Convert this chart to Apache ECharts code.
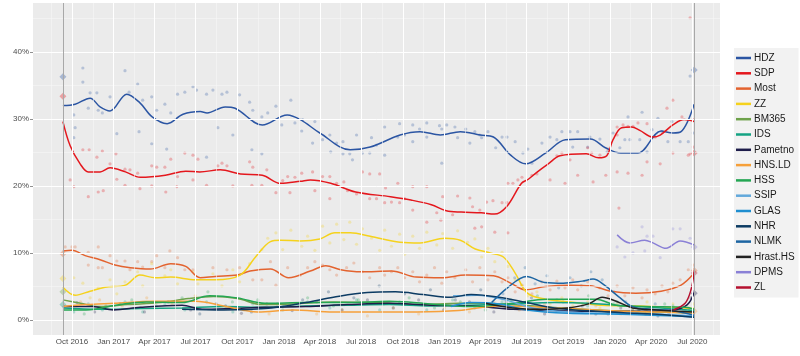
<!DOCTYPE html>
<html><head><meta charset="utf-8">
<script src="https://cdn.jsdelivr.net/npm/echarts@6/dist/echarts.min.js"></script>
<style>html,body{margin:0;padding:0;background:#fff}#c{width:800px;height:356px}</style>
</head><body><div id="c"></div>
<script>
// ---------- data ----------
const partyNames  = ['HDZ','SDP','Most','ZZ','BM365','IDS','Pametno','HNS.LD','HSS','SSIP','GLAS','NHR','NLMK','Hrast.HS','DPMS','ZL'];
const partyColors = ['#2b55a3','#e4171d','#e3632f','#f5d21d','#6ea24b','#14a383','#1e1d4b','#f6a03a','#24a653','#62a8db','#1f8ed0','#0c3b63','#1d65a2','#222222','#8a80d6','#b5112f'];
const tickLabels = ['Oct 2016','Jan 2017','Apr 2017','Jul 2017','Oct 2017','Jan 2018','Apr 2018','Jul 2018','Oct 2018','Jan 2019','Apr 2019','Jul 2019','Oct 2019','Jan 2020','Apr 2020','Jul 2020'];
const yTicks = [0,10,20,30,40];
const yMinor = [5,15,25,35,45];
const electionDates = ['2016-09-11','2020-07-05'];

const hdzLine = [['2016-09-11',32.0],['2016-10-08',32.2],['2016-11-10',33.1],['2016-12-02',31.8],['2016-12-24',31.2],['2017-01-30',33.7],['2017-02-28',32.4],['2017-03-27',30.3],['2017-04-29',29.3],['2017-06-03',30.7],['2017-07-11',31.1],['2017-07-26',30.9],['2017-09-04',31.8],['2017-09-26',31.6],['2017-11-25',29.1],['2018-01-19',30.6],['2018-02-17',29.9],['2018-04-01',27.9],['2018-06-07',25.4],['2018-07-21',25.8],['2018-09-25',27.6],['2018-11-08',28.1],['2018-12-23',27.6],['2019-02-05',28.1],['2019-03-21',27.6],['2019-04-19',27.3],['2019-05-27',24.6],['2019-06-29',23.3],['2019-08-12',24.9],['2019-09-25',26.9],['2019-11-19',27.0],['2019-12-22',25.7],['2020-01-25',24.9],['2020-03-03',24.9],['2020-04-23',28.2],['2020-05-19',27.9],['2020-06-06',28.1],['2020-07-05',32.2]];
const sdpLine = [['2016-09-11',29.6],['2016-09-27',26.0],['2016-10-19',23.3],['2016-11-06',22.1],['2016-12-02',22.1],['2016-12-24',22.7],['2017-01-27',22.1],['2017-03-01',21.3],['2017-04-25',21.6],['2017-06-09',22.2],['2017-07-10',22.1],['2017-08-24',22.4],['2017-10-08',21.8],['2017-11-25',21.6],['2018-01-04',20.4],['2018-02-17',20.7],['2018-03-11',20.9],['2018-04-25',20.4],['2018-06-19',19.1],['2018-09-04',18.4],['2018-10-19',17.9],['2018-12-03',17.2],['2019-01-05',16.3],['2019-02-07',16.1],['2019-03-23',16.0],['2019-04-21',15.8],['2019-05-18',16.9],['2019-06-20',20.4],['2019-07-05',21.0],['2019-07-23',22.0],['2019-08-18',23.3],['2019-09-13',24.5],['2019-11-10',24.8],['2019-12-07',24.2],['2019-12-25',24.5],['2020-01-08',26.9],['2020-01-27',28.7],['2020-02-18',28.8],['2020-03-07',28.3],['2020-04-05',27.3],['2020-04-21',27.6],['2020-05-19',29.1],['2020-06-13',29.9],['2020-07-05',29.6]];
const mostLine = [['2016-09-11',10.3],['2016-10-01',10.4],['2016-10-30',9.6],['2016-12-02',9.0],['2017-01-04',8.2],['2017-02-07',7.8],['2017-03-23',7.6],['2017-05-07',8.4],['2017-06-09',8.0],['2017-07-11',6.3],['2017-08-13',6.5],['2017-10-01',6.7],['2017-10-29',7.3],['2017-12-13',7.6],['2018-01-22',6.3],['2018-03-11',7.3],['2018-04-14',8.1],['2018-05-17',7.5],['2018-07-01',7.2],['2018-09-06',7.3],['2018-10-31',6.4],['2018-12-26',6.3],['2019-02-17',6.7],['2019-04-19',6.6],['2019-05-27',5.5],['2019-06-29',4.5],['2019-08-12',5.0],['2019-10-06',5.2],['2019-11-19',5.1],['2020-01-03',4.3],['2020-02-27',4.0],['2020-04-23',4.3],['2020-06-06',5.2],['2020-07-05',7.0]];
const zzLine = [['2016-09-11',4.9],['2016-10-08',3.7],['2016-11-10',4.3],['2016-12-13',4.9],['2017-01-27',5.2],['2017-02-28',6.7],['2017-04-03',6.3],['2017-05-07',6.4],['2017-07-01',6.0],['2017-08-13',6.0],['2017-10-07',6.7],['2017-11-10',9.4],['2017-12-13',11.7],['2018-01-04',11.9],['2018-02-17',11.8],['2018-04-01',12.1],['2018-05-04',13.0],['2018-06-07',13.0],['2018-07-21',12.5],['2018-09-25',11.6],['2018-11-08',11.5],['2019-01-02',12.2],['2019-02-05',11.9],['2019-03-10',10.6],['2019-04-12',10.0],['2019-05-11',9.4],['2019-06-06',7.0],['2019-07-03',4.0],['2019-08-12',3.1],['2019-10-06',2.7],['2019-12-12',2.2],['2020-03-09',2.1],['2020-05-15',1.9],['2020-07-05',1.7]];
const bm365Line = [['2016-09-11',3.0],['2016-10-20',2.5],['2016-12-01',2.0],['2017-02-01',2.3],['2017-04-15',2.6],['2017-06-15',3.2],['2017-08-10',3.5],['2017-10-01',3.2],['2017-11-25',2.3],['2018-02-01',2.4],['2018-05-01',2.7],['2018-08-01',2.6],['2018-11-01',2.3],['2019-02-01',2.5],['2019-05-01',2.4],['2019-08-01',2.0],['2019-11-01',1.6],['2020-02-01',1.3],['2020-05-01',1.2],['2020-07-05',1.0]];
const idsLine = [['2016-09-11',1.8],['2016-12-01',1.6],['2017-03-01',1.7],['2017-06-01',1.8],['2017-09-01',2.0],['2017-12-01',1.9],['2018-03-01',2.1],['2018-06-01',2.2],['2018-09-01',2.3],['2018-12-01',2.1],['2019-03-01',2.2],['2019-06-01',2.4],['2019-09-01',2.6],['2019-11-15',2.5],['2020-01-15',2.2],['2020-04-01',1.9],['2020-07-05',1.4]];
const pametnoLine = [['2016-09-11',2.0],['2016-11-15',2.0],['2017-01-01',1.5],['2017-03-01',1.9],['2017-06-01',2.2],['2017-07-15',1.6],['2017-09-15',1.7],['2017-12-01',1.9],['2018-03-01',2.0],['2018-06-01',2.3],['2018-09-01',2.5],['2018-12-01',2.2],['2019-03-01',2.1],['2019-06-01',1.6],['2019-09-01',1.4],['2019-12-01',1.3],['2020-03-01',1.3],['2020-05-20',1.5],['2020-06-20',2.3],['2020-07-05',4.1]];
const hnsLine = [['2016-09-11',2.0],['2016-11-01',2.3],['2017-01-01',2.5],['2017-04-01',2.8],['2017-07-01',2.8],['2017-09-01',2.1],['2017-11-15',1.2],['2018-02-01',1.5],['2018-05-01',1.2],['2018-08-01',1.2],['2018-11-01',1.2],['2019-02-01',1.4],['2019-05-01',2.1],['2019-08-01',1.9],['2019-11-01',1.6],['2020-02-01',1.3],['2020-05-01',1.2],['2020-07-05',1.0]];
const hssLine = [['2016-09-11',1.5],['2016-11-01',1.5],['2017-01-15',2.3],['2017-03-15',2.7],['2017-06-01',2.6],['2017-08-01',3.6],['2017-10-01',3.3],['2017-12-01',2.5],['2018-03-01',2.6],['2018-06-01',2.6],['2018-09-01',2.8],['2018-12-01',2.4],['2019-03-01',2.0],['2019-06-01',2.5],['2019-08-15',3.1],['2019-12-01',3.1],['2020-01-15',2.2],['2020-03-15',2.0],['2020-06-15',1.9],['2020-07-05',1.6]];
const ssipLine = [['2019-01-20',3.6],['2019-03-15',3.7],['2019-05-15',3.0],['2019-07-15',1.8],['2019-10-01',1.2],['2020-01-01',1.0],['2020-04-01',0.9],['2020-07-05',0.6]];
const glasLine = [['2019-01-15',2.0],['2019-03-01',2.6],['2019-05-01',2.4],['2019-07-01',1.5],['2019-10-01',1.0],['2020-01-01',0.9],['2020-04-01',0.7],['2020-07-05',0.5]];
const nhrLine = [['2017-06-01',1.6],['2017-09-01',1.5],['2017-12-01',1.7],['2018-03-01',2.6],['2018-05-01',3.4],['2018-07-15',4.1],['2018-09-15',4.2],['2018-11-15',3.8],['2019-01-15',3.4],['2019-03-01',3.8],['2019-05-01',3.4],['2019-07-01',2.6],['2019-09-01',1.8],['2019-12-01',1.3],['2020-03-01',1.0],['2020-05-01',0.8],['2020-07-05',0.4]];
const nlmkLine = [['2019-04-15',2.6],['2019-05-20',4.8],['2019-07-01',6.5],['2019-08-10',5.6],['2019-09-20',5.5],['2019-11-01',5.8],['2019-11-25',6.1],['2019-12-20',5.2],['2020-01-20',3.5],['2020-02-20',2.0],['2020-04-01',1.6],['2020-05-15',1.4],['2020-07-05',0.7]];
const hrastLine = [['2019-04-01',2.5],['2019-06-01',1.8],['2019-08-01',1.6],['2019-10-01',1.8],['2019-11-15',2.4],['2019-12-15',3.4],['2020-01-15',2.8],['2020-02-20',1.8],['2020-04-15',1.5],['2020-07-05',1.2]];
const dpmsLine = [['2020-01-17',12.7],['2020-02-14',11.5],['2020-03-18',11.9],['2020-04-05',11.5],['2020-05-04',10.7],['2020-06-04',11.8],['2020-07-05',11.2]];
const zlLine = [['2020-05-20',1.5],['2020-06-15',2.5],['2020-06-28',4.5],['2020-07-05',7.2]];

const hdzPolls = [['2016-10-25',37.6],['2016-11-10',33.9],['2016-10-25',35.5],['2016-10-05',30.6],['2016-10-08',28.7],['2016-10-05',27.2],['2016-11-06',31.6],['2016-11-25',33.9],['2016-11-28',31.3],['2016-12-07',30.9],['2016-12-24',33.3],['2017-01-08',27.8],['2017-01-26',37.2],['2017-02-04',34.0],['2017-02-23',35.2],['2017-02-26',28.1],['2017-03-06',32.8],['2017-03-26',33.3],['2017-03-26',26.3],['2017-04-06',31.3],['2017-04-24',32.2],['2017-04-28',25.5],['2017-05-07',30.9],['2017-05-22',33.7],['2017-06-07',34.0],['2017-06-25',34.8],['2017-07-03',34.3],['2017-07-25',33.7],['2017-08-08',34.3],['2017-08-28',33.7],['2017-09-08',34.0],['2017-10-06',33.6],['2017-07-25',24.3],['2017-08-19',28.7],['2017-09-21',27.6],['2017-10-28',32.5],['2017-11-04',31.3],['2017-11-02',25.4],['2017-11-24',30.3],['2017-11-24',24.8],['2017-12-07',30.9],['2017-12-25',31.9],['2018-01-07',29.1],['2018-01-27',32.8],['2018-02-05',29.4],['2018-02-20',28.2],['2018-02-22',29.9],['2018-03-21',29.6],['2018-03-16',26.4],['2018-04-07',26.9],['2018-04-23',27.6],['2018-04-25',25.1],['2018-05-08',26.4],['2018-05-22',26.6],['2018-05-22',24.8],['2018-06-06',24.8],['2018-06-12',23.9],['2018-06-21',27.6],['2018-07-04',24.9],['2018-07-20',24.9],['2018-07-24',27.2],['2018-08-04',26.1],['2018-08-22',24.6],['2018-08-22',28.8],['2018-09-20',27.3],['2018-09-24',29.3],['2018-10-05',27.6],['2018-10-23',29.1],['2018-10-23',26.6],['2018-11-07',28.5],['2018-11-23',29.4],['2018-11-23',27.3],['2018-12-21',29.0],['2018-12-26',23.4],['2018-12-26',28.5],['2019-01-06',29.1],['2019-01-24',28.8],['2019-01-30',27.2],['2019-02-17',28.5],['2019-02-26',26.4],['2019-03-09',28.1],['2019-03-20',27.6],['2019-03-24',27.2],['2019-04-07',28.1],['2019-04-24',25.7],['2019-05-08',27.3],['2019-05-19',27.3],['2019-06-06',26.6],['2019-06-23',24.9],['2019-07-04',25.5],['2019-07-13',23.4],['2019-08-04',26.4],['2019-08-22',27.3],['2019-09-06',26.9],['2019-09-17',28.1],['2019-10-05',28.1],['2019-10-11',25.8],['2019-10-22',28.1],['2019-11-13',25.8],['2019-11-18',27.3],['2019-12-10',27.0],['2019-12-26',25.1],['2020-01-08',27.9],['2020-01-23',25.7],['2020-02-03',26.9],['2020-02-10',30.3],['2020-02-14',26.9],['2020-03-07',26.9],['2020-03-12',31.0],['2020-03-23',25.1],['2020-04-03',28.4],['2020-04-05',27.3],['2020-04-16',30.1],['2020-04-25',28.1],['2020-05-08',26.6],['2020-05-17',29.6],['2020-06-04',26.6],['2020-06-22',26.6],['2020-06-26',36.4],['2020-07-03',27.9]];
const sdpPolls = [['2016-09-27',20.9],['2016-10-05',19.9],['2016-11-06',18.4],['2016-11-28',19.1],['2016-12-09',19.3],['2017-01-08',21.0],['2017-01-26',20.1],['2017-02-28',19.6],['2017-03-26',20.0],['2017-04-26',19.1],['2017-05-20',19.9],['2017-06-25',20.9],['2016-10-25',25.4],['2016-11-08',25.4],['2016-11-25',24.3],['2016-12-07',25.2],['2017-01-06',24.8],['2016-12-24',23.3],['2017-01-26',22.5],['2017-02-06',22.4],['2017-02-23',21.9],['2017-03-26',23.0],['2017-04-06',22.8],['2017-04-24',22.8],['2017-05-07',24.0],['2017-05-22',21.4],['2017-06-07',24.9],['2017-06-25',24.6],['2017-07-06',24.0],['2017-08-19',23.0],['2017-08-28',23.4],['2017-09-08',23.0],['2017-10-28',23.6],['2017-11-04',22.8],['2017-12-05',22.4],['2018-01-20',21.4],['2018-02-20',21.9],['2018-03-16',22.1],['2018-04-07',21.4],['2018-04-23',21.4],['2017-07-25',20.1],['2017-09-21',20.0],['2017-11-02',20.1],['2017-11-24',20.1],['2017-12-25',19.0],['2018-01-09',20.8],['2018-01-25',19.0],['2018-02-05',21.3],['2018-03-21',19.3],['2018-04-23',18.1],['2018-05-08',20.4],['2018-05-24',20.6],['2018-06-01',19.3],['2018-06-21',18.8],['2018-07-04',22.1],['2018-07-20',21.8],['2018-07-20',18.1],['2018-08-04',18.1],['2018-08-11',21.8],['2018-08-22',17.5],['2018-08-24',19.7],['2018-09-06',17.6],['2018-09-20',20.4],['2018-09-24',17.5],['2018-10-05',18.1],['2018-10-23',19.9],['2018-10-23',16.4],['2018-11-23',19.9],['2018-11-23',14.6],['2018-12-15',16.0],['2018-12-24',14.9],['2018-12-28',18.4],['2019-01-19',15.7],['2019-01-30',18.5],['2019-02-26',18.2],['2019-03-04',16.9],['2019-03-09',13.7],['2019-03-20',16.4],['2019-03-24',13.9],['2019-04-04',17.6],['2019-04-18',17.8],['2019-04-22',13.1],['2019-05-08',17.5],['2019-05-19',17.5],['2019-05-21',13.0],['2019-05-21',20.4],['2019-06-01',20.4],['2019-06-12',20.9],['2019-06-21',21.3],['2019-07-13',21.6],['2019-07-24',21.8],['2019-08-22',20.9],['2019-09-06',24.5],['2019-09-17',24.9],['2019-09-24',20.4],['2019-10-05',23.9],['2019-10-22',21.6],['2019-11-13',25.7],['2019-11-22',24.9],['2019-11-25',20.6],['2019-12-10',24.6],['2019-12-23',21.6],['2019-12-28',25.5],['2020-01-17',28.8],['2020-01-17',27.6],['2020-01-17',22.1],['2020-01-21',16.7],['2020-01-30',29.1],['2020-02-10',28.9],['2020-02-10',21.9],['2020-02-21',28.9],['2020-03-03',29.4],['2020-03-12',21.6],['2020-03-23',29.3],['2020-03-23',23.6],['2020-04-10',27.3],['2020-04-21',23.3],['2020-05-06',31.6],['2020-05-19',32.8],['2020-05-19',24.9],['2020-06-08',30.3],['2020-06-22',24.6],['2020-06-26',45.1],['2020-06-26',24.8],['2020-07-03',25.8],['2020-07-03',29.9]];
const mostPolls = [['2016-09-16',10.9],['2016-10-01',10.9],['2016-10-08',10.9],['2016-11-06',10.1],['2016-11-06',8.2],['2016-11-28',10.9],['2016-11-28',7.8],['2016-12-07',7.8],['2016-12-24',9.6],['2017-01-08',8.8],['2017-01-26',8.8],['2017-02-06',7.5],['2017-02-23',8.7],['2017-03-06',7.9],['2017-03-26',8.7],['2017-04-06',9.6],['2017-04-24',7.8],['2017-05-05',10.3],['2017-05-22',9.3],['2017-06-07',7.5],['2017-06-25',7.5],['2017-08-08',7.8],['2017-09-08',7.5],['2017-10-06',7.8],['2017-11-04',6.0],['2017-11-24',6.0],['2017-12-13',8.7],['2017-12-25',5.2],['2018-01-20',7.8],['2018-02-17',6.7],['2018-03-05',7.8],['2018-03-21',8.7],['2018-04-07',8.2],['2018-04-23',7.5],['2018-05-08',6.7],['2018-05-30',7.8],['2018-06-15',8.5],['2018-07-04',7.2],['2018-07-20',6.3],['2018-08-11',7.8],['2018-08-22',6.7],['2018-09-06',7.2],['2018-09-20',7.8],['2018-10-05',6.3],['2018-10-23',7.2],['2018-11-07',5.7],['2018-11-23',6.7],['2018-12-10',7.8],['2018-12-26',5.5],['2019-01-06',7.2],['2019-01-24',6.3],['2019-02-17',7.5],['2019-03-04',5.7],['2019-03-20',7.8],['2019-04-07',6.0],['2019-04-22',7.2],['2019-05-08',5.7],['2019-05-21',6.3],['2019-06-06',4.2],['2019-06-21',5.2],['2019-07-13',3.9],['2019-08-04',5.7],['2019-08-22',4.5],['2019-09-06',5.8],['2019-09-24',4.8],['2019-10-11',6.0],['2019-10-22',4.5],['2019-11-13',5.7],['2019-12-10',4.8],['2019-12-28',3.6],['2020-01-17',5.1],['2020-02-03',3.6],['2020-02-21',4.8],['2020-03-12',3.3],['2020-03-23',4.5],['2020-04-10',3.9],['2020-04-25',5.1],['2020-05-08',4.2],['2020-05-19',5.5],['2020-06-04',6.0],['2020-06-22',7.5],['2020-07-03',8.2]];
const zzPolls = [['2016-10-05',6.3],['2016-10-25',5.5],['2016-11-10',3.3],['2016-11-28',4.8],['2016-12-24',6.0],['2017-01-08',3.9],['2017-01-26',5.7],['2017-02-23',7.2],['2017-03-06',5.1],['2017-03-26',8.4],['2017-04-24',6.6],['2017-05-07',7.5],['2017-05-22',5.4],['2017-06-25',7.2],['2017-07-06',5.4],['2017-08-08',6.9],['2017-08-28',5.1],['2017-09-21',7.5],['2017-10-06',5.7],['2017-10-28',8.4],['2017-11-24',10.5],['2017-12-07',12.2],['2017-12-25',13.0],['2018-01-09',10.5],['2018-01-27',13.4],['2018-02-20',11.0],['2018-03-05',12.5],['2018-03-21',10.4],['2018-04-07',14.0],['2018-04-23',11.5],['2018-05-08',14.3],['2018-05-24',12.0],['2018-06-06',14.6],['2018-06-21',11.3],['2018-07-04',13.6],['2018-07-24',12.2],['2018-08-11',10.4],['2018-08-22',13.4],['2018-09-06',11.0],['2018-09-24',12.8],['2018-10-05',9.8],['2018-10-23',12.5],['2018-11-07',10.7],['2018-11-23',13.1],['2018-12-15',11.2],['2018-12-28',12.9],['2019-01-19',10.7],['2019-01-30',13.3],['2019-02-21',11.6],['2019-03-09',12.1],['2019-03-24',9.4],['2019-04-07',10.7],['2019-04-22',8.7],['2019-05-08',10.1],['2019-05-21',8.0],['2019-06-06',6.0],['2019-06-21',5.1],['2019-07-04',3.6],['2019-07-24',4.2],['2019-08-22',2.4],['2019-09-17',3.3],['2019-10-11',2.1],['2019-11-13',2.7],['2019-12-10',1.8],['2020-01-17',2.4],['2020-02-21',1.5],['2020-03-23',2.7],['2020-04-25',1.5],['2020-05-19',2.4],['2020-06-22',1.8],['2020-07-03',2.4]];
const idsPolls = [['2016-10-05',1.2],['2016-11-06',2.4],['2016-12-07',1.5],['2017-01-26',2.7],['2017-03-06',1.2],['2017-04-24',2.4],['2017-06-07',1.5],['2017-07-25',2.7],['2017-09-21',1.2],['2017-11-04',2.4],['2018-01-09',1.5],['2018-03-05',2.7],['2018-04-23',1.8],['2018-06-21',3.0],['2018-08-11',1.5],['2018-09-24',2.7],['2018-11-23',1.5],['2019-01-19',3.0],['2019-03-09',1.8],['2019-05-08',2.7],['2019-07-04',1.5],['2019-09-06',3.0],['2019-11-13',2.1],['2020-01-17',2.7],['2020-03-23',1.5],['2020-05-19',2.1],['2020-07-03',1.5]];
const hnsPolls = [['2016-10-20',2.7],['2016-12-01',3.0],['2017-01-20',2.1],['2017-03-15',3.3],['2017-05-10',2.4],['2017-06-30',3.6],['2017-08-20',2.1],['2017-10-15',1.5],['2017-12-10',0.9],['2018-02-01',2.1],['2018-03-25',0.9],['2018-05-20',1.5],['2018-07-15',0.6],['2018-09-10',1.8],['2018-11-05',0.9],['2019-01-01',1.8],['2019-02-25',1.2],['2019-04-20',2.7],['2019-06-15',1.5],['2019-08-10',2.4],['2019-10-05',1.2],['2019-12-01',2.1],['2020-01-25',0.9],['2020-03-20',1.5],['2020-05-15',0.9],['2020-07-01',1.2]];
const pametnoPolls = [['2016-10-12',2.6],['2016-11-20',1.2],['2017-01-15',2.4],['2017-03-10',1.2],['2017-05-01',2.7],['2017-06-20',1.5],['2017-08-15',2.4],['2017-10-10',1.0],['2017-12-05',2.4],['2018-01-30',1.4],['2018-03-25',2.7],['2018-05-20',1.5],['2018-07-15',3.0],['2018-09-10',1.8],['2018-11-05',3.0],['2018-12-30',1.5],['2019-02-25',2.7],['2019-04-20',1.2],['2019-06-15',2.1],['2019-08-10',0.9],['2019-10-05',1.8],['2019-12-01',0.9],['2020-01-25',1.8],['2020-03-20',0.9],['2020-05-15',1.8],['2020-06-28',3.3]];
const hssPolls = [['2016-10-28',0.9],['2016-12-15',2.1],['2017-02-10',3.0],['2017-04-05',2.1],['2017-06-01',3.3],['2017-07-28',4.2],['2017-09-20',2.7],['2017-11-15',3.0],['2018-01-10',2.1],['2018-03-05',3.3],['2018-05-01',2.1],['2018-06-25',3.0],['2018-08-20',2.4],['2018-10-15',3.3],['2018-12-10',1.8],['2019-02-05',2.7],['2019-04-01',1.5],['2019-05-28',3.0],['2019-07-25',3.6],['2019-09-20',2.7],['2019-11-15',3.6],['2020-01-10',2.4],['2020-03-05',1.5],['2020-05-01',2.4],['2020-06-25',1.5]];
const nhrPolls = [['2017-07-10',0.9],['2017-09-05',2.1],['2017-11-01',1.2],['2017-12-28',2.4],['2018-02-22',3.0],['2018-04-20',4.2],['2018-06-15',3.3],['2018-08-10',5.1],['2018-10-05',3.9],['2018-12-01',4.5],['2019-01-25',3.0],['2019-03-22',4.5],['2019-05-17',2.7],['2019-07-12',3.3],['2019-09-06',1.5],['2019-11-01',2.1],['2019-12-28',0.9],['2020-02-20',1.5],['2020-04-16',0.6],['2020-06-10',1.2]];
const nlmkPolls = [['2019-05-10',3.9],['2019-06-05',6.3],['2019-06-28',7.8],['2019-07-20',5.4],['2019-08-15',6.6],['2019-09-10',4.8],['2019-10-05',6.3],['2019-10-30',5.1],['2019-11-20',7.2],['2019-12-15',6.0],['2020-01-10',4.2],['2020-02-05',2.7],['2020-03-05',1.5],['2020-04-10',2.4],['2020-05-10',0.9],['2020-06-15',1.5]];
const dpmsPolls = [['2020-01-17',10.9],['2020-02-03',9.4],['2020-02-21',10.0],['2020-03-12',13.9],['2020-03-18',10.3],['2020-03-23',12.5],['2020-04-05',12.5],['2020-04-21',9.3],['2020-05-19',13.6],['2020-06-04',13.6],['2020-06-26',12.2]];

const result2016Parties = ['HDZ','SDP','Most','ZZ','BM365','IDS'];
const result2016Values  = [36.3,33.4,9.9,6.2,4.2,2.3];
const result2020Parties = ['HDZ','SDP','DPMS','Most','ZL','Pametno','HNS.LD'];
const result2020Values  = [37.3,24.9,10.9,7.4,7.0,4.0,1.3];

// ---------- build ----------
const lineData = {HDZ:hdzLine,SDP:sdpLine,Most:mostLine,ZZ:zzLine,BM365:bm365Line,IDS:idsLine,Pametno:pametnoLine,'HNS.LD':hnsLine,HSS:hssLine,SSIP:ssipLine,GLAS:glasLine,NHR:nhrLine,NLMK:nlmkLine,'Hrast.HS':hrastLine,DPMS:dpmsLine,ZL:zlLine};
const pollData = {HDZ:hdzPolls,SDP:sdpPolls,Most:mostPolls,ZZ:zzPolls,IDS:idsPolls,'HNS.LD':hnsPolls,Pametno:pametnoPolls,HSS:hssPolls,NHR:nhrPolls,NLMK:nlmkPolls,DPMS:dpmsPolls};
const colorOf = n => partyColors[partyNames.indexOf(n)];
const MON = {Jan:0,Feb:1,Mar:2,Apr:3,May:4,Jun:5,Jul:6,Aug:7,Sep:8,Oct:9,Nov:10,Dec:11};
const tickTs = tickLabels.map(l => { const p = l.split(' '); return Date.UTC(+p[1], MON[p[0]], 1); });
const labelOf = {}; tickTs.forEach((t,i)=>labelOf[t]=tickLabels[i]);
const ts = s => { const p = s.split('-'); return Date.UTC(+p[0], +p[1]-1, +p[2]); };
const minorTs = [];
const step0 = tickTs[1]-tickTs[0];
minorTs.push(tickTs[0] - step0/2);
for (let i=0;i<tickTs.length-1;i++) minorTs.push((tickTs[i]+tickTs[i+1])/2);
minorTs.push(tickTs[tickTs.length-1] + step0/2);

const gridLines = [];
minorTs.forEach(t => gridLines.push({xAxis:t, lineStyle:{color:'#f6f6f6', width:0.6, type:'solid'}}));
yMinor.forEach(v => gridLines.push({yAxis:v, lineStyle:{color:'#f6f6f6', width:0.6, type:'solid'}}));
tickTs.forEach(t => gridLines.push({xAxis:t, lineStyle:{color:'#ffffff', width:1, type:'solid'}}));
yTicks.forEach(v => gridLines.push({yAxis:v, lineStyle:{color:'#ffffff', width:1, type:'solid'}}));
electionDates.forEach(d => gridLines.push({xAxis:ts(d), lineStyle:{color:'#a8a8a8', width:1, type:'solid'}}));

const series = [];
series.push({type:'line', name:'_grid', data:[[ts('2016-07-07'), -10]], symbol:'none', lineStyle:{width:0}, silent:true, z:0,
  markLine:{silent:true, symbol:['none','none'], label:{show:false}, animation:false, data:gridLines}});
Object.keys(pollData).forEach(n => {
  series.push({type:'scatter', name:'_p_'+n, silent:true, z:1, symbolSize:3.2,
    itemStyle:{color:colorOf(n), opacity:0.28},
    data: pollData[n].map(p => [ts(p[0]), p[1]])});
});
const resData = [];
result2016Parties.forEach((n,i)=>resData.push({value:[ts(electionDates[0]), result2016Values[i]], itemStyle:{color:colorOf(n), opacity:0.35}}));
result2020Parties.forEach((n,i)=>resData.push({value:[ts(electionDates[1]), result2020Values[i]], itemStyle:{color:colorOf(n), opacity:0.35}}));
series.push({type:'scatter', name:'_results', silent:true, z:1, symbol:'diamond', symbolSize:7, data:resData});
partyNames.forEach((n,i) => {
  series.push({type:'line', name:n, smooth:0.35, showSymbol:false, symbol:'none', z:3,
    lineStyle:{color:partyColors[i], width:1.5}, itemStyle:{color:partyColors[i]},
    data: lineData[n].map(p => [ts(p[0]), p[1]])});
});

const chart = echarts.init(document.getElementById('c'), null, {renderer:'canvas'});
chart.setOption({
  animation:false,
  textStyle:{fontFamily:'Liberation Sans, Arial, sans-serif'},
  grid:{left:33, right:80, top:3, bottom:21, show:true, backgroundColor:'#ebebeb', borderWidth:0, containLabel:false},
  xAxis:{type:'value', min:ts('2016-07-07'), max:ts('2020-08-31'),
    axisLine:{show:false},
    axisTick:{show:true, customValues:tickTs, length:3, lineStyle:{color:'#444', width:0.6}},
    axisLabel:{show:true, customValues:tickTs, formatter:v=>labelOf[v]||'', fontSize:8, color:'#4d4d4d', margin:3, hideOverlap:false},
    splitLine:{show:false}},
  yAxis:{type:'value', min:-2.24, max:47.3,
    axisLine:{show:false},
    axisTick:{show:true, customValues:yTicks, length:3, lineStyle:{color:'#444', width:0.6}},
    axisLabel:{show:true, customValues:yTicks, formatter:v=>v+'%', fontSize:8, color:'#4d4d4d', margin:4},
    splitLine:{show:false}},
  legend:{orient:'vertical', left:734, top:48, icon:'rect', itemWidth:15, itemHeight:2.5, itemGap:3.3,
    backgroundColor:'#f2f2f2', padding:[4,4,4,2], selectedMode:false,
    textStyle:{fontSize:10, color:'#1a1a1a', lineHeight:12, padding:[0,0,0,-2]},
    data:partyNames},
  series:series
});
</script></body></html>
